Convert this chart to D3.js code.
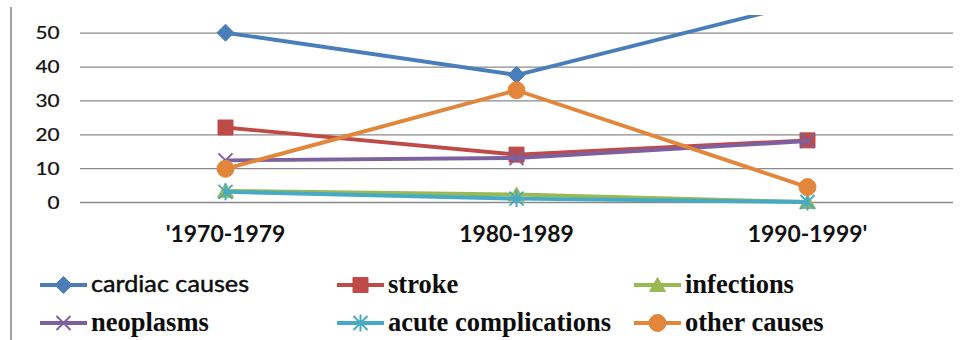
<!DOCTYPE html>
<html><head><meta charset="utf-8">
<script src="https://cdn.jsdelivr.net/npm/d3@7"></script>
<style>
html,body{margin:0;padding:0;background:#fff;}
svg{display:block;}
</style></head>
<body>
<svg id="chart" width="966" height="340"></svg>
<script>
// Causes of death per decade
const decades = ["'1970-1979", "1980-1989", "1990-1999'"];
const seriesNames = ["cardiac causes", "stroke", "infections", "neoplasms", "acute complications", "other causes"];
const cardiac = [50, 37.5, 59];
const stroke = [22, 14, 18.2];
const infections = [3.3, 2.2, 0];
const neoplasms = [12.3, 13, 18];
const acute = [3, 1, 0];
const other = [9.8, 33, 4.4];
const yTicks = [0, 10, 20, 30, 40, 50];

const seriesValues = [cardiac, stroke, infections, neoplasms, acute, other];
const colors = ["#4A7EBB", "#BE4B48", "#98B954", "#7D60A0", "#46AAC5", "#E2863B"];
const markerKinds = ["diamond", "square", "triangle", "x", "asterisk", "circle"];

const svg = d3.select("#chart");
const plot = {left: 80, right: 953, top: 15, zero: 202};

const x = d3.scaleBand().domain(decades).range([plot.left, plot.right]).padding(0);
const cx = d => x(d) + x.bandwidth() / 2;
const y = d3.scaleLinear().domain([0, 60]).range([plot.zero, plot.zero - 60 * 3.386]);

// frame edge on the left
svg.append("line").attr("x1", 11).attr("x2", 11).attr("y1", 7).attr("y2", 340)
  .attr("stroke", "#a3a3a3").attr("stroke-width", 2);

// value axis with gridlines
const tickScale = 1.22;
const yAxis = svg.append("g").attr("transform", `translate(${plot.left},0)`)
  .call(d3.axisLeft(y).tickValues(yTicks).tickSize(-(plot.right - plot.left)).tickFormat(d3.format("d")));
yAxis.select(".domain").remove();
yAxis.selectAll(".tick line").attr("stroke", "#8a8a8a").attr("stroke-width", 1.3);
yAxis.selectAll(".tick text")
  .attr("x", -20.5 / tickScale).attr("dy", "0.36em")
  .attr("transform", `scale(${tickScale},1)`)
  .attr("text-anchor", "end")
  .style("font-family", "Lato, 'Open Sans', sans-serif").style("font-size", "17px")
  .attr("fill", "#111").attr("stroke", "#111").attr("stroke-width", 0.25);

// category axis
const catScale = 1.04;
const xAxis = svg.append("g").attr("transform", `translate(0,${plot.zero})`)
  .call(d3.axisBottom(x).tickSize(0));
xAxis.select(".domain").remove();
xAxis.selectAll(".tick text")
  .attr("y", 40).attr("dy", 0)
  .attr("transform", `scale(${catScale},1)`)
  .style("font-family", "Lato, 'Open Sans', sans-serif").style("font-size", "22px").style("font-weight", "bold")
  .attr("fill", "#111");

// marker shapes
const shapes = {
  diamond: {draw(c) { const r = 8.5; c.moveTo(0, -r); c.lineTo(r, 0); c.lineTo(0, r); c.lineTo(-r, 0); c.closePath(); }},
  square: {draw(c) { const r = 7.5; c.rect(-r, -r, 2 * r, 2 * r); }},
  triangle: {draw(c) { c.moveTo(0, -7.5); c.lineTo(8, 6.5); c.lineTo(-8, 6.5); c.closePath(); }},
  circle: {draw(c) { c.moveTo(8.5, 0); c.arc(0, 0, 8.5, 0, 2 * Math.PI); }},
  x: {draw(c) { const r = 7; c.moveTo(-r, -r); c.lineTo(r, r); c.moveTo(r, -r); c.lineTo(-r, r); }},
  asterisk: {draw(c) { const r = 7; c.moveTo(-r, -r); c.lineTo(r, r); c.moveTo(r, -r); c.lineTo(-r, r); c.moveTo(0, -r - 1.5); c.lineTo(0, r + 1.5); }}
};
const isStroked = k => k === "x" || k === "asterisk";
function drawMarker(g, kind, color, px, py) {
  const p = g.append("path").attr("d", d3.symbol().type(shapes[kind])()).attr("transform", `translate(${px},${py})`);
  if (isStroked(kind)) p.attr("fill", "none").attr("stroke", color).attr("stroke-width", 2);
  else p.attr("fill", color).attr("stroke", color).attr("stroke-width", 1);
}

// series lines, clipped to the plot area
svg.append("clipPath").attr("id", "plotClip")
  .append("rect").attr("x", 0).attr("y", plot.top).attr("width", 966).attr("height", 340 - plot.top);
const line = d3.line().x((v, i) => cx(decades[i])).y(v => y(v));
const series = svg.append("g").attr("clip-path", "url(#plotClip)");
seriesValues.forEach((vals, s) => {
  const g = series.append("g");
  g.append("path").attr("d", line(vals)).attr("fill", "none")
    .attr("stroke", colors[s]).attr("stroke-width", 3.9).attr("stroke-linejoin", "round");
  vals.forEach((v, i) => drawMarker(g, markerKinds[s], colors[s], cx(decades[i]), y(v)));
});

// legend: two rows of three entries
const legendCols = [40, 337, 634];
const legendRows = [285, 323];
const legend = svg.append("g");
seriesNames.forEach((name, s) => {
  const lx = legendCols[s % 3], ly = legendRows[Math.floor(s / 3)];
  const g = legend.append("g");
  g.append("line").attr("x1", lx).attr("x2", lx + 47).attr("y1", ly).attr("y2", ly)
    .attr("stroke", colors[s]).attr("stroke-width", 3.9);
  drawMarker(g, markerKinds[s], colors[s], lx + 23.5, ly);
  const t = g.append("text").attr("x", lx + 51).attr("y", ly + 7.5).attr("fill", "#0d0d0d").text(name);
  if (s === 0) t.style("font-family", "Lato, 'Open Sans', sans-serif").style("font-size", "22.5px")
    .attr("stroke", "#0d0d0d").attr("stroke-width", 0.45)
    .attr("transform", `translate(${lx + 51},0) scale(1.12,1) translate(${-(lx + 51)},0)`);
  else t.style("font-family", "'Liberation Serif', 'Times New Roman', serif").style("font-size", "26.5px").style("font-weight", "bold");
});
</script>
</body></html>
